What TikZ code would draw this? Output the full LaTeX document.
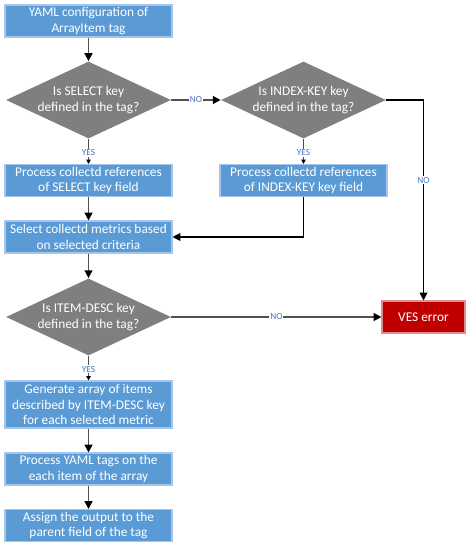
\documentclass[tikz,border=0pt]{standalone}
\usepackage{fontspec}
\setmainfont{Carlito}
\usetikzlibrary{shapes.geometric, arrows.meta, positioning}
\definecolor{boxC} {RGB}{ 91,155,213}
\definecolor{boxE} {RGB}{165,198,232}
\definecolor{decC} {RGB}{127,127,127}
\definecolor{errC} {RGB}{192,  0,  0}
\definecolor{errE} {RGB}{226,140,140}
\definecolor{lblC} {RGB}{ 68,114,196}
\definecolor{lineC}{RGB}{ 80, 80, 80}
\tikzset{
  proc/.style  = {rectangle, draw=boxE, fill=boxC, line width=0.6pt, text=white,
                  align=center, font=\fontsize{7.6}{9}\selectfont,
                  minimum width=3.34cm, minimum height=0.64cm, inner sep=1pt},
  dec/.style   = {diamond, aspect=2.14, fill=decC, text=white, align=center, inner sep=-3pt,
                  font=\fontsize{7.6}{9}\selectfont,
                  minimum width=3.3cm, minimum height=1.54cm},
  err/.style   = {rectangle, draw=errE, fill=errC, line width=0.6pt, text=white,
                  font=\fontsize{7.6}{9}\selectfont,
                  minimum width=1.66cm, minimum height=0.64cm},
  arr/.style   = {-{Triangle[length=4.5pt, width=4.5pt, color=black]}, line width=0.9pt, color=lineC},
  arrs/.style  = {-{Triangle[length=2.5pt, width=2.5pt, color=black]}, line width=0.9pt, color=lineC},
  arrk/.style  = {-{Triangle[length=4.5pt, width=4.5pt]}, line width=0.6pt, color=black},
  lbl/.style   = {font=\fontsize{5.3}{6}\selectfont, text=lblC, fill=white, inner sep=0.5pt},
}

\begin{document}
\begin{tikzpicture}[x=0.02cm, y=-0.02cm]
\useasboundingbox (0,0) rectangle (471,550);

% ---- Nodes ------------------------------------------------------------------
\node[proc] (Y)  at (88.5, 21)   {YAML configuration of\\ArrayItem tag};
\node[dec]  (D1) at (88.5, 100)  {Is SELECT key\\defined in the tag?};
\node[proc] (P1) at (88.5, 180.5) {Process collectd references\\of SELECT key field};

\node[dec]  (D2) at (303.5, 100) {Is INDEX-KEY key\\defined in the tag?};
\node[proc] (P2) at (303.5, 180.5) {Process collectd references\\of INDEX-KEY key field};

\node[proc] (P3) at (88.5, 237)  {Select collectd metrics based\\on selected criteria};
\node[dec]  (D3) at (88.5, 317)  {Is ITEM-DESC key\\defined in the tag?};
\node[err]  (E)  at (423.5, 317) {VES error};

\node[proc, minimum height=0.94cm] (P4) at (88.5, 404.5)
  {Generate array of items\\described by ITEM-DESC key\\for each selected metric};
\node[proc] (P5) at (88.5, 469)   {Process YAML tags on the\\each item of the array};
\node[proc] (P6) at (88.5, 525.5) {Assign the output to the\\parent field of the tag};

% ---- Arrows -----------------------------------------------------------------
\draw[arr]  (Y)  -- (D1);
\draw[arrs] (D1) -- node[lbl, pos=0.55]{YES} (P1);
\draw[arr]  (D1) -- node[lbl]{NO} (D2);
\draw[arrs] (D2) -- node[lbl, pos=0.55]{YES} (P2);
\draw[arrk] (D2.east) -| node[lbl, pos=0.7]{NO} (E.north);
\draw[arr]  (P1) -- (P3);
\draw[arrk] (P2.south) |- (P3.east);
\draw[arr]  (P3) -- (D3);
\draw[arr]  (D3) -- node[lbl]{NO} (E);
\draw[arrs] (D3) -- node[lbl, pos=0.55]{YES} (P4);
\draw[arr]  (P4) -- (P5);
\draw[arr]  (P5) -- (P6);

\end{tikzpicture}
\end{document}
